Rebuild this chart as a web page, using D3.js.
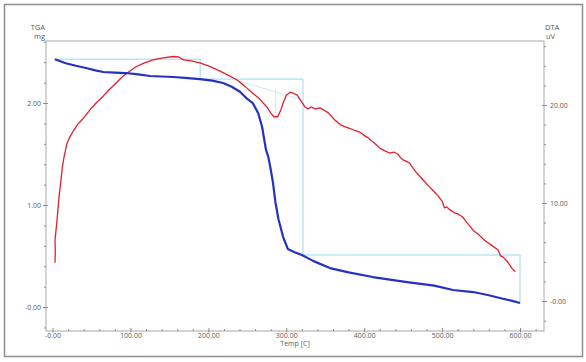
<!DOCTYPE html>
<html>
<head>
<meta charset="utf-8">
<script src="https://cdn.jsdelivr.net/npm/d3@7"></script>
<style>
  body { margin: 0; background: #fff; }
  svg text { font-family: "Open Sans", "Noto Sans", sans-serif; fill: #5a5a5a; }
</style>
</head>
<body>
<div id="chart"></div>
<script>
// TGA (mass, mg) against temperature
const tgaSeries = [
    [3, 2.43], [10, 2.41], [17, 2.39], [30, 2.365], [43, 2.343], [55, 2.32], [65, 2.304],
    [80, 2.298], [94, 2.294], [110, 2.28], [125, 2.265], [140, 2.26], [155, 2.255],
    [170, 2.247], [189, 2.235], [205, 2.22], [219, 2.196], [230, 2.16], [241, 2.108],
    [250, 2.04], [257, 2.0], [264, 1.9], [269, 1.765], [274, 1.54], [277, 1.47],
    [280, 1.35], [283, 1.216], [286, 1.03], [290, 0.86], [296, 0.686], [302, 0.569],
    [310, 0.54], [320, 0.51], [335, 0.45], [356, 0.382], [380, 0.34], [411, 0.294],
    [455, 0.245], [490, 0.21], [514, 0.167], [540, 0.147], [560, 0.115], [574, 0.088],
    [590, 0.06], [600, 0.039]
];

// DTA (uV) against temperature
const dtaSeries = [
    [3.2, 3.9], [3.5, 5.0], [3.2, 6.2], [5.8, 8.3], [8.3, 10.6], [10.9, 12.4], [12.5, 13.6],
    [14.8, 14.7], [18.6, 16.1], [22, 16.7], [26.3, 17.3], [32, 18.0], [39, 18.6], [44, 19.1],
    [50, 19.7], [56, 20.2], [65, 20.9], [72, 21.5], [81, 22.2], [90, 22.9], [98, 23.4],
    [107, 23.9], [118, 24.3], [129, 24.6], [142, 24.8], [155, 24.95], [162, 24.9],
    [168, 24.6], [178, 24.5], [189, 24.3], [200, 24.0], [211, 23.6], [224, 23.1],
    [237, 22.55], [247, 21.9], [257, 21.2], [266, 20.6], [275, 19.8], [280, 19.2],
    [284, 18.8], [289, 18.8], [293, 19.5], [296, 20.2], [300, 21.0], [305, 21.3],
    [309, 21.2], [314, 21.0], [319, 20.4], [324, 19.8], [328, 19.6], [332, 19.8],
    [337, 19.6], [343, 19.7], [348, 19.5], [354, 19.2], [362, 18.5], [369, 18.0],
    [375, 17.8], [382, 17.6], [388, 17.4], [395, 17.2], [400, 16.9], [404, 16.7],
    [412, 16.2], [420, 15.6], [427, 15.3], [433, 15.1], [438, 15.2], [443, 15.0],
    [447, 14.6], [450, 14.4], [458, 14.1], [466, 13.2], [475, 12.4], [482, 11.8],
    [488, 11.3], [494, 10.8], [500, 10.2], [503, 9.5], [506, 9.6], [510, 9.3],
    [516, 9.0], [520, 8.9], [526, 8.6], [532, 8.0], [540, 7.2], [548, 6.7], [553, 6.3],
    [558, 6.0], [565, 5.6], [572, 5.2], [575, 4.6], [578, 4.5], [584, 4.0], [590, 3.3],
    [594, 3.0]
];

// TGA step analysis (mg)
const tgaSteps = [
    [3, 2.43], [189.5, 2.43], [189.5, 2.235], [321.5, 2.235],
    [321.5, 0.51], [600, 0.51], [600, 0.04]
];

// DTA peak baseline and peak marker (uV)
const dtaBaseline = [[231, 22.65], [321, 20.5]];
const dtaPeakMark = [[286, 21.6], [286, 18.9]];

const xTicks = [0, 100, 200, 300, 400, 500, 600];
const xTickLabels = ['-0.00', '100.00', '200.00', '300.00', '400.00', '500.00', '600.00'];
const tgaTicks = [0, 1, 2];
const tgaTickLabels = ['-0.00', '1.00', '2.00'];
const dtaTicks = [0, 10, 20];
const dtaTickLabels = ['-0.00', '10.00', '20.00'];

const width = 586, height = 362;
const box = { left: 46, right: 544, top: 41, bottom: 331 };

const svg = d3.select('#chart').append('svg')
    .attr('width', width)
    .attr('height', height);

// outer frame
svg.append('rect')
    .attr('x', 4.5).attr('y', 4.5)
    .attr('width', 578).attr('height', 352)
    .attr('fill', 'none')
    .attr('stroke', '#8e8e8e')
    .attr('stroke-width', 1.5);

const xscale = d3.scaleLinear().domain([-8.4, 630.8]).range([box.left, box.right]);
const yTga = d3.scaleLinear().domain([-0.235, 2.608]).range([box.bottom, box.top]);
const yDta = d3.scaleLinear().domain([-3.06, 26.53]).range([box.bottom, box.top]);

// plot box
svg.append('rect')
    .attr('x', box.left).attr('y', box.top)
    .attr('width', box.right - box.left).attr('height', box.bottom - box.top)
    .attr('fill', 'none')
    .attr('stroke', '#a8a8a8')
    .attr('stroke-width', 1);

function styleAxis(g, minor) {
    g.select('.domain').remove();
    g.selectAll('.tick line').attr('stroke', '#8c8c8c');
    g.selectAll('.tick text').attr('fill', '#5a5a5a').style('font-size', '7px');
    if (minor) g.selectAll('.tick text').remove();
}

// x axis
const xMinor = d3.range(20, 621, 20).filter(v => v % 100 !== 0);
svg.append('g')
    .attr('transform', `translate(0, ${box.bottom})`)
    .call(d3.axisBottom(xscale).tickValues(xMinor).tickSize(-2).tickFormat(''))
    .call(g => styleAxis(g, true));
svg.append('g')
    .attr('transform', `translate(0, ${box.bottom})`)
    .call(d3.axisBottom(xscale).tickValues(xTicks).tickSize(-3).tickPadding(2)
        .tickFormat((d, i) => xTickLabels[i]))
    .call(g => styleAxis(g, false))
    .call(g => g.selectAll('.tick line').attr('y2', 1.5).attr('y1', -3));

// left axis (TGA)
const tgaMinor = d3.range(-0.2, 2.61, 0.2).filter(v => Math.abs(v - Math.round(v)) > 0.01);
svg.append('g')
    .attr('transform', `translate(${box.left}, 0)`)
    .call(d3.axisLeft(yTga).tickValues(tgaMinor).tickSize(2).tickFormat(''))
    .call(g => styleAxis(g, true));
svg.append('g')
    .attr('transform', `translate(${box.left}, 0)`)
    .call(d3.axisLeft(yTga).tickValues(tgaTicks).tickSize(3).tickPadding(2)
        .tickFormat((d, i) => tgaTickLabels[i]))
    .call(g => styleAxis(g, false))
    .call(g => g.selectAll('.tick line').attr('x1', 2));

// right axis (DTA)
const dtaMinor = d3.range(-2, 27, 2).filter(v => v % 10 !== 0);
svg.append('g')
    .attr('transform', `translate(${box.right}, 0)`)
    .call(d3.axisRight(yDta).tickValues(dtaMinor).tickSize(2).tickFormat(''))
    .call(g => styleAxis(g, true));
svg.append('g')
    .attr('transform', `translate(${box.right}, 0)`)
    .call(d3.axisRight(yDta).tickValues(dtaTicks).tickSize(3).tickPadding(3)
        .tickFormat((d, i) => dtaTickLabels[i]))
    .call(g => styleAxis(g, false))
    .call(g => g.selectAll('.tick line').attr('x1', -2));

// axis titles
svg.append('text').attr('x', 45).attr('y', 30).attr('text-anchor', 'end')
    .style('font-size', '7.5px').text('TGA');
svg.append('text').attr('x', 45).attr('y', 39).attr('text-anchor', 'end')
    .style('font-size', '7.5px').text('mg');
svg.append('text').attr('x', 545).attr('y', 30)
    .style('font-size', '7.5px').text('DTA');
svg.append('text').attr('x', 546).attr('y', 39)
    .style('font-size', '7.5px').text('uV');
svg.append('text').attr('x', (box.left + box.right) / 2).attr('y', 346)
    .attr('text-anchor', 'middle')
    .style('font-size', '7px').text('Temp  [C]');

const lineTga = d3.line().x(d => xscale(d[0])).y(d => yTga(d[1]));
const lineDta = d3.line().x(d => xscale(d[0])).y(d => yDta(d[1]));

// analysis lines
svg.append('path').datum(tgaSteps)
    .attr('d', lineTga)
    .attr('fill', 'none')
    .attr('stroke', '#94dcec')
    .attr('stroke-width', 1);
svg.append('path').datum(dtaBaseline)
    .attr('d', lineDta)
    .attr('fill', 'none')
    .attr('stroke', '#c4ecf4')
    .attr('stroke-width', 1);
svg.append('path').datum(dtaPeakMark)
    .attr('d', lineDta)
    .attr('fill', 'none')
    .attr('stroke', '#c4ecf4')
    .attr('stroke-width', 1);

// DTA curve
svg.append('path').datum(dtaSeries)
    .attr('d', lineDta)
    .attr('fill', 'none')
    .attr('stroke', '#e0202c')
    .attr('stroke-width', 1.3)
    .attr('stroke-linejoin', 'round');

// TGA curve
svg.append('path').datum(tgaSeries)
    .attr('d', lineTga)
    .attr('fill', 'none')
    .attr('stroke', '#2432c4')
    .attr('stroke-width', 2.2)
    .attr('stroke-linejoin', 'round');
</script>
</body>
</html>
